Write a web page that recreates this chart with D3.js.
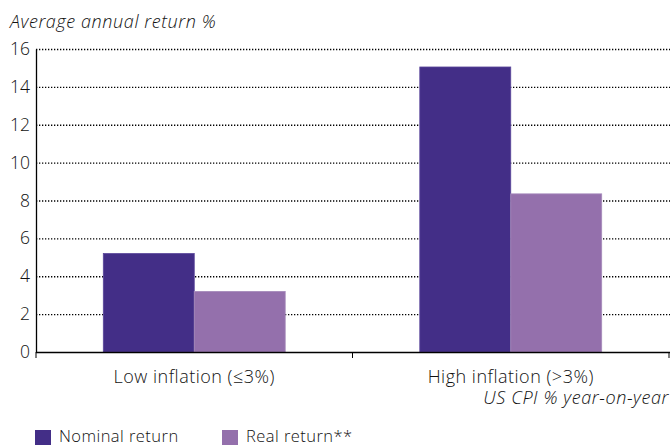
<!DOCTYPE html>
<html><head><meta charset="utf-8">
<script src="https://cdn.jsdelivr.net/npm/d3@7"></script>
<style>
body{margin:0;background:#fff;}
text{font-family:"Open Sans",Roboto,sans-serif;font-weight:300;fill:#111;}
</style></head>
<body><svg id="c" width="670" height="445"></svg>
<script>
const categories = ["Low inflation (≤3%)", "High inflation (>3%)"];
const seriesNames = ["Nominal return", "Real return**"];
const nominal = [5.2, 15.05];
const real = [3.2, 8.35];
const yTicks = [0, 2, 4, 6, 8, 10, 12, 14, 16];
const colors = ["#432e87", "#9470ac"];

(function(){
const svg = d3.select("#c");
const mLeft = 36, mRight = 669, mTop = 49, mBottom = 352;
const x = d3.scaleBand().domain(categories).range([mLeft, mRight]).paddingInner(0).paddingOuter(0);
const y = d3.scaleLinear().domain([0, 16]).range([mBottom, mTop]);
const inner = d3.scaleBand().domain(seriesNames).range([0, x.bandwidth()]).paddingOuter(0.74).paddingInner(0);

// grid
svg.append("g").selectAll("line").data(yTicks.filter(d => d > 0)).join("line")
  .attr("x1", mLeft).attr("x2", 670).attr("y1", d => y(d) + 0.5).attr("y2", d => y(d) + 0.5)
  .attr("stroke", "#000").attr("stroke-width", 1.3).attr("stroke-dasharray", "1.3,1.7");

// bars
const data = categories.map((c, i) => ({c, vals: [nominal[i], real[i]]}));
const g = svg.append("g");
data.forEach(d => {
  d.vals.forEach((v, j) => {
    g.append("rect")
      .attr("x", x(d.c) + inner(seriesNames[j]))
      .attr("y", y(v))
      .attr("width", inner.bandwidth())
      .attr("height", y(0) - y(v))
      .attr("fill", colors[j])
      .attr("stroke", j === 0 ? "#5a469a" : "#a68abb").attr("stroke-width", 0.8);
  });
});

// y axis
const yAxis = d3.axisLeft(y).tickValues(yTicks).tickSize(0).tickPadding(6).tickFormat(d3.format("d"));
const ya = svg.append("g").attr("transform", `translate(${mLeft},0)`).call(yAxis);
ya.select(".domain").attr("stroke", "#000").attr("stroke-width", 1.3);
ya.selectAll("text").style("font-size", "17.5px").attr("x", -6).attr("text-anchor", "end");

// x axis
const xa = svg.append("g").attr("transform", `translate(0,${mBottom})`);
xa.append("line").attr("x1", mLeft).attr("x2", 670).attr("y1", 0.5).attr("y2", 0.5).attr("stroke", "#000").attr("stroke-width", 1.3);
const bounds = [mLeft, x(categories[1]), mRight];
xa.selectAll("line.t").data(bounds).join("line").attr("class", "t")
  .attr("x1", d => d).attr("x2", d => d).attr("y1", 0).attr("y2", 6).attr("stroke", "#000").attr("stroke-width", 1);
xa.selectAll("text.cat").data(categories).join("text").attr("class", "cat")
  .attr("x", d => x(d) + x.bandwidth() / 2).attr("y", 31)
  .attr("text-anchor", "middle").style("font-size", "18px").style("letter-spacing", "0.5px").text(d => d);

// titles
svg.append("text").attr("x", 10).attr("y", 28).style("font-size", "18px").style("letter-spacing", "0.6px").style("font-style", "italic").text("Average annual return %");
svg.append("text").attr("x", 669).attr("y", 404).attr("text-anchor", "end").style("font-size", "18px").style("letter-spacing", "0.6px").style("font-style", "italic").text("US CPI % year-on-year");

// legend
const lx = [35, 222];
seriesNames.forEach((s, i) => {
  svg.append("rect").attr("x", lx[i]).attr("y", 430).attr("width", 16).attr("height", 15).attr("fill", colors[i]);
  svg.append("text").attr("x", lx[i] + 24).attr("y", 442).style("font-size", "16.5px").style("letter-spacing", "0.45px").text(s);
});
})();
</script></body></html>
